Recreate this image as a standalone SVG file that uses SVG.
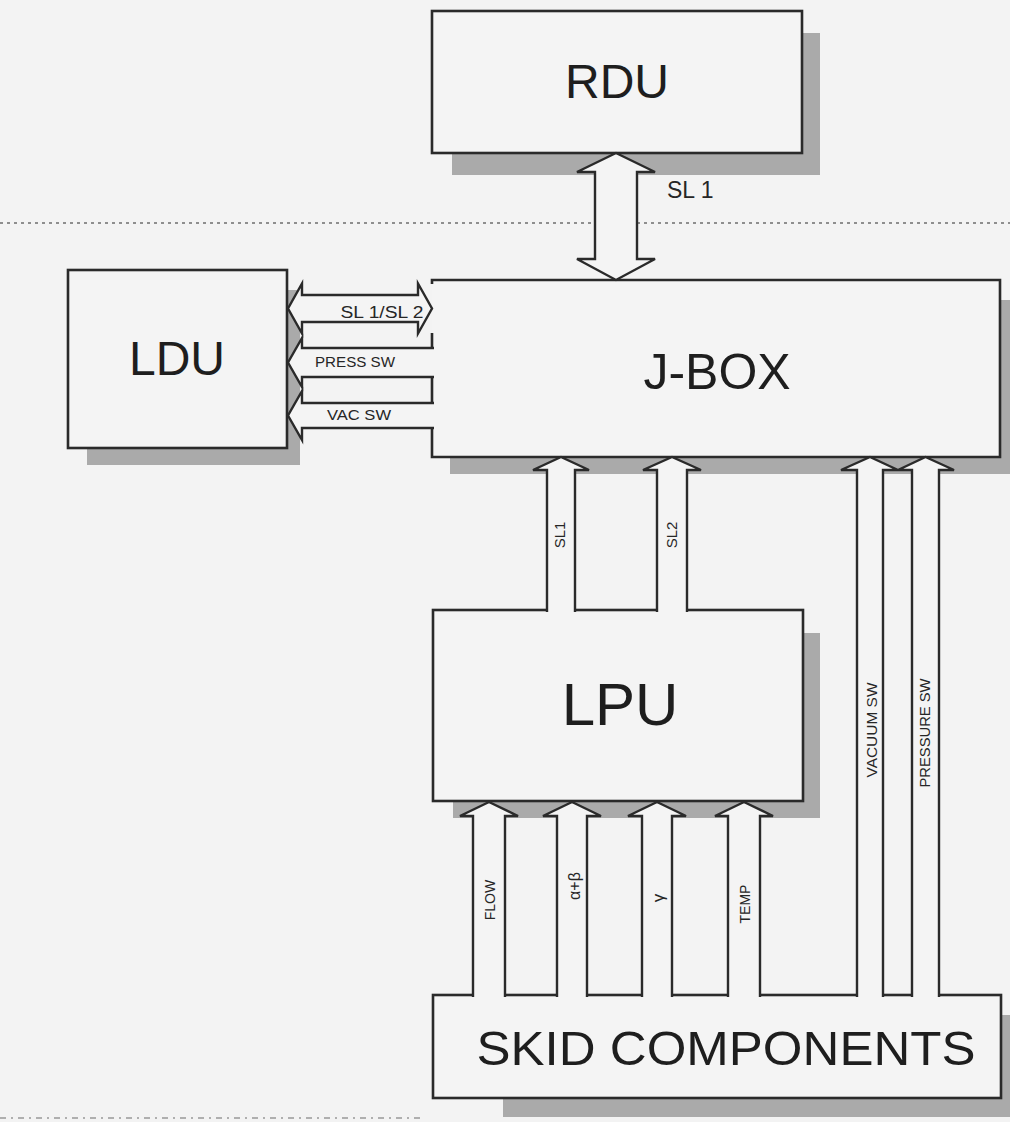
<svg xmlns="http://www.w3.org/2000/svg" width="1010" height="1122" viewBox="0 0 1010 1122">
<style>
.bg{fill:#f3f3f3}
.box{fill:#f4f4f4;stroke:#2a2a2a;stroke-width:2.6}
.sh{fill:#aaaaaa}
.arr{fill:#f4f4f4;stroke:#2a2a2a;stroke-width:2.4;stroke-linejoin:miter}
.big{font-family:"Liberation Sans",Arial,sans-serif;fill:#1e1e1e;text-anchor:middle}
.sm{font-family:"Liberation Sans",Arial,sans-serif;fill:#262626;text-anchor:middle}
.dot{stroke:#6e6e6e;stroke-width:1.6;stroke-dasharray:3 4;fill:none}
</style>
<rect class="bg" width="1010" height="1122"/>
<line class="dot" x1="0" y1="223" x2="1010" y2="223"/>
<line x1="0" y1="1118" x2="425" y2="1118" stroke="#999" stroke-width="1.4" stroke-dasharray="6 5 2 5"/>

<g id="rdu">
<rect class="sh" x="452" y="33" width="368" height="142"/>
<rect class="box" x="432" y="11" width="370" height="142"/>
<text class="big" x="617" y="98" font-size="48">RDU</text>
</g>

<g id="ldu">
<rect class="sh" x="87" y="290" width="213" height="175"/>
<rect class="box" x="68" y="270" width="219" height="178"/>
<text class="big" x="177" y="375" font-size="48">LDU</text>
</g>

<g id="jbox">
<rect class="sh" x="450" y="300" width="560" height="174"/>
<path class="box" d="M432,333 L432,457 L1000,457 L1000,280 L432,280 L432,284"/>
<text class="big" x="717" y="389" font-size="50">J-BOX</text>
</g>

<g id="lpu">
<rect class="sh" x="453" y="633" width="367" height="185"/>
<rect class="box" x="433" y="610" width="370" height="191"/>
<text class="big" x="620" y="725" font-size="60">LPU</text>
</g>

<g id="skid">
<rect class="sh" x="503" y="1015" width="507" height="102"/>
<rect class="box" x="433" y="995" width="568" height="103"/>
<text class="big" x="726" y="1065" font-size="49" textLength="499" lengthAdjust="spacingAndGlyphs">SKID COMPONENTS</text>
</g>

<g id="connectors">
<path class="arr" d="M595,172 L577,172 L616,153 L655,172 L637,172 L637,259 L655,259 L616,280 L577,259 L595,259 Z"/>
<path class="arr" d="M302,295 L302,283.5 L288,308.5 L302,333.5 L302,322 L418,322 L418,333.5 L432,308.5 L418,283.5 L418,295 Z"/>
<path class="arr" d="M434,348 L302,348 L302,338 L288,362.5 L302,387 L302,377 L434,377"/>
<path class="arr" d="M434,403 L302,403 L302,391 L288,415.5 L302,440 L302,428 L434,428"/>
<path class="arr" d="M547,612 L547,470 L533,470 L561,457 L589,470 L575,470 L575,612"/>
<path class="arr" d="M657,612 L657,470 L643,470 L672,457 L701,470 L687,470 L687,612"/>
<path class="arr" d="M857,997 L857,470 L841,470 L870,457 L898,470 L883,470 L883,997"/>
<path class="arr" d="M912,997 L912,470 L898,470 L925.5,457 L954,470 L939,470 L939,997"/>
<path class="arr" d="M473,997 L473,816 L460,816 L489,802 L518,816 L505,816 L505,997"/>
<path class="arr" d="M557,997 L557,816 L543,816 L572,802 L601,816 L587,816 L587,997"/>
<path class="arr" d="M642,997 L642,816 L628,816 L657,802 L686,816 L672,816 L672,997"/>
<path class="arr" d="M728,997 L728,816 L715,816 L744,802 L773,816 L760,816 L760,997"/>
<text class="sm" x="667" y="198" style="font-size:23px;text-anchor:start">SL 1</text>
<text class="sm" x="382" y="318" style="font-size:16px" textLength="83" lengthAdjust="spacingAndGlyphs">SL 1/SL 2</text>
<text class="sm" x="355" y="367" style="font-size:14px" textLength="80" lengthAdjust="spacingAndGlyphs">PRESS SW</text>
<text class="sm" x="359" y="420" style="font-size:14px" textLength="64" lengthAdjust="spacingAndGlyphs">VAC SW</text>
<text class="sm" transform="translate(565,535) rotate(-90)" style="font-size:15px">SL1</text>
<text class="sm" transform="translate(677,535) rotate(-90)" style="font-size:15px">SL2</text>
<text class="sm" transform="translate(877,730) rotate(-90)" style="font-size:14px" textLength="95" lengthAdjust="spacingAndGlyphs">VACUUM SW</text>
<text class="sm" transform="translate(930,733) rotate(-90)" style="font-size:14px" textLength="109" lengthAdjust="spacingAndGlyphs">PRESSURE SW</text>
<text class="sm" transform="translate(495,900) rotate(-90)" style="font-size:14px">FLOW</text>
<text class="sm" transform="translate(580,886) rotate(-90)" style="font-size:16px">α+β</text>
<text class="sm" transform="translate(664,898) rotate(-90)" style="font-size:17px">γ</text>
<text class="sm" transform="translate(750,904) rotate(-90)" style="font-size:14px">TEMP</text>
</g>
</svg>
